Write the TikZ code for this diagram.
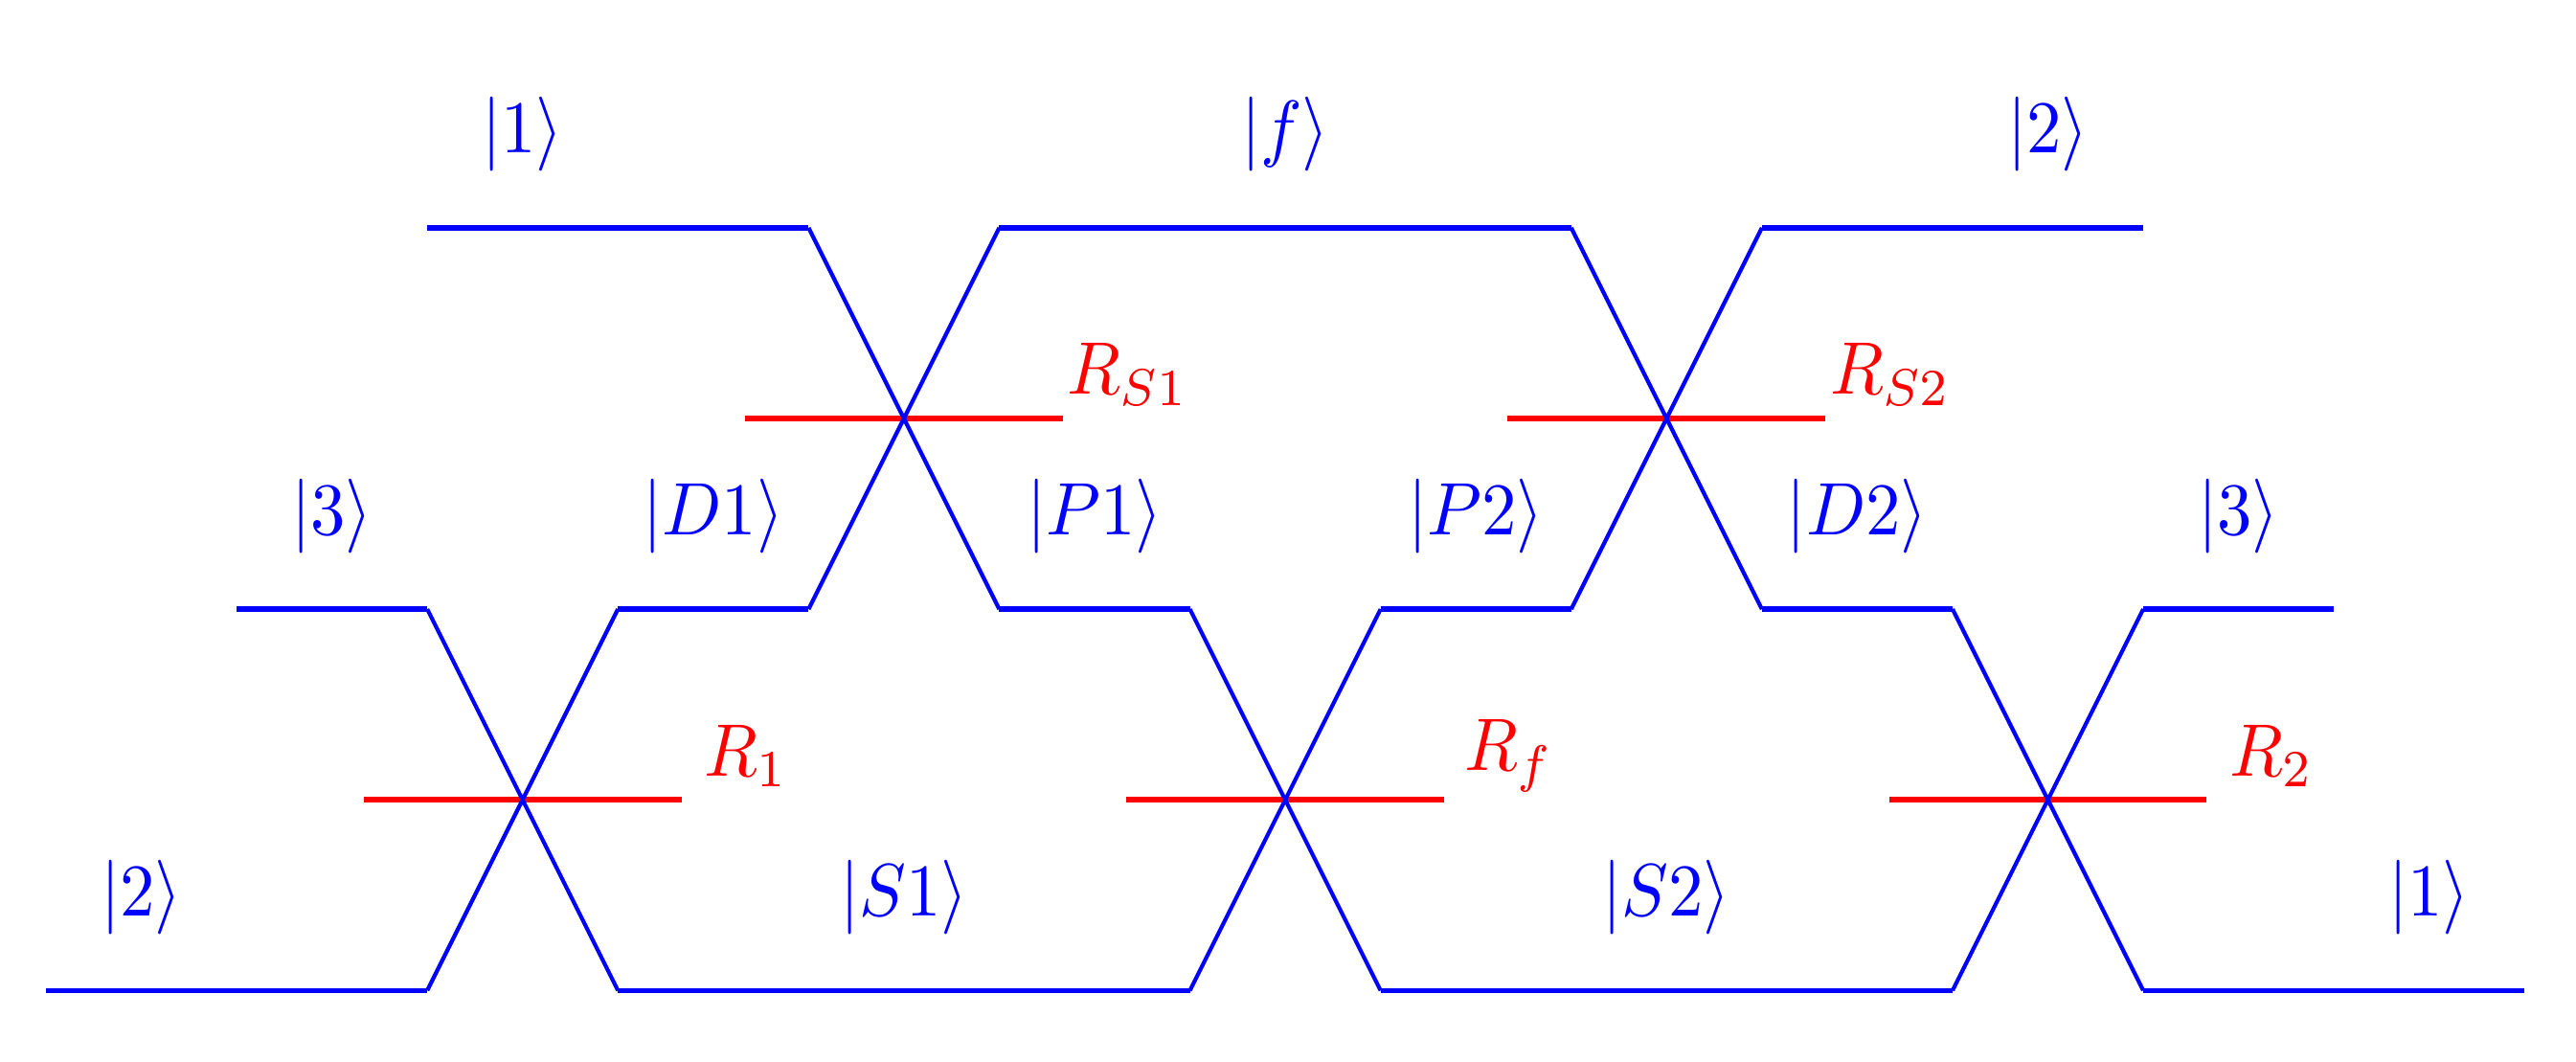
\documentclass[tikz,border=0pt]{standalone}
\begin{document}
\begin{tikzpicture}[x=1cm,y=1cm,
  lvl/.style={blue, line width=1.55pt},
  trans/.style={blue, line width=1.2pt},
  res/.style={red, line width=1.65pt},
  ket/.style={text=blue, inner sep=0pt, xscale=2.08, yscale=2.22},
  rlab/.style={text=red, inner sep=0pt, xscale=2.08, yscale=2.22}]
\useasboundingbox (-0.482,-0.748) rectangle (26.54,10.39);
% resonances (drawn below the blue lines)
\draw[res] (3.333,2) -- (6.667,2);
\draw[res] (11.333,2) -- (14.667,2);
\draw[res] (19.333,2) -- (22.667,2);
\draw[res] (7.333,6) -- (10.667,6);
\draw[res] (15.333,6) -- (18.667,6);
% levels
\draw[lvl] (0,0)--(4,0) (6,0)--(12,0) (14,0)--(20,0) (22,0)--(26,0);
\draw[lvl] (2,4)--(4,4) (6,4)--(8,4) (10,4)--(12,4) (14,4)--(16,4) (18,4)--(20,4) (22,4)--(24,4);
\draw[lvl] (4,8)--(8,8) (10,8)--(16,8) (18,8)--(22,8);
% transitions
\draw[trans] (4,0)--(6,4) (4,4)--(6,0) (12,0)--(14,4) (12,4)--(14,0) (20,0)--(22,4) (20,4)--(22,0);
\draw[trans] (8,4)--(10,8) (8,8)--(10,4) (16,4)--(18,8) (16,8)--(18,4);
% state labels
\node[ket] (k1t) at (5,8.978) {$|1\rangle$};
\node[ket] (kf) at (13,8.978) {$|f\rangle$};
\node[ket] (k2t) at (21,8.978) {$|2\rangle$};
\node[ket] (k3l) at (3,4.975) {$|3\rangle$};
\node[ket] (kD1) at (7,4.975) {$|D1\rangle$};
\node[ket] (kP1) at (11,4.975) {$|P1\rangle$};
\node[ket] (kP2) at (15,4.975) {$|P2\rangle$};
\node[ket] (kD2) at (19,4.975) {$|D2\rangle$};
\node[ket] (k3r) at (23,4.975) {$|3\rangle$};
\node[ket] (k2b) at (1,0.972) {$|2\rangle$};
\node[ket] (kS1) at (9,0.972) {$|S1\rangle$};
\node[ket] (kS2) at (17,0.972) {$|S2\rangle$};
\node[ket] (k1b) at (25,0.972) {$|1\rangle$};
% resonance labels
\node[rlab] (R1) at (7.35,2.46) {$R_1$};
\node[rlab] (Rf) at (15.35,2.46) {$R_f$};
\node[rlab] (R2) at (23.35,2.46) {$R_2$};
\node[rlab] (RS1) at (11.35,6.46) {$R_{S1}$};
\node[rlab] (RS2) at (19.35,6.46) {$R_{S2}$};
\end{tikzpicture}
\end{document}
